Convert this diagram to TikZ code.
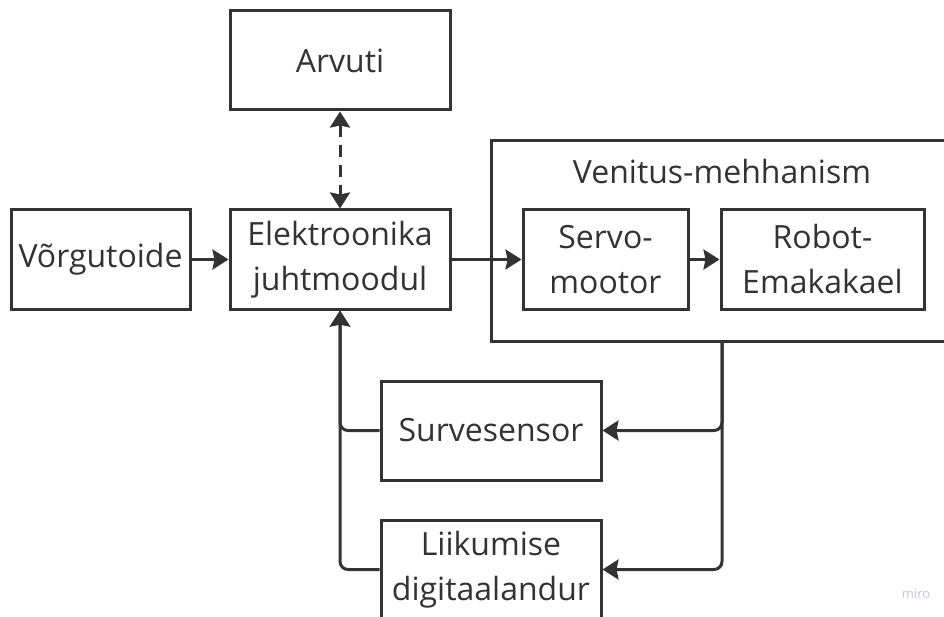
\documentclass[tikz,border=0pt]{standalone}
\usepackage{fontspec}
\setmainfont{Open Sans}
\usetikzlibrary{arrows.meta}
\definecolor{ink}{HTML}{333333}
\definecolor{mirogrey}{HTML}{C4C4D6}
\tikzset{
  blok/.style={draw=ink, line width=3pt, text=ink, align=center,
    inner sep=0pt, font=\fontsize{32}{45}\selectfont},
  nool/.style={draw=ink, line width=3pt,
    -{Stealth[inset=2pt,length=16pt,width=20pt]}},
  kahesuunaline/.style={nool, {Stealth[inset=2pt,length=16pt,width=20pt]}-{Stealth[inset=2pt,length=16pt,width=20pt]},
    dash pattern=on 12pt off 8pt}
}
\begin{document}
\begin{tikzpicture}[x=1pt,y=-1pt]
  \useasboundingbox[fill=white] (0,0) rectangle (944,617);
  \clip (0,0) rectangle (944,617);
  % plokid
  \node[blok, minimum width=480pt, minimum height=200pt] (mehh) at (731,241) {};
  \node[blok, draw=none] (mehhpealkiri) at (722,172) {Venitus-mehhanism};
  \node[blok, minimum width=220pt, minimum height=99pt] (arvuti) at (340,60.5) {Arvuti};
  \node[blok, minimum width=179pt, minimum height=99pt] (toide) at (100.5,259.5) {Võrgutoide};
  \node[blok, minimum width=220pt, minimum height=99pt] (juht) at (340,259.5) {Elektroonika\\juhtmoodul};
  \node[blok, minimum width=165pt, minimum height=99pt] (servo) at (605.5,259.5) {Servo-\\mootor};
  \node[blok, minimum width=203pt, minimum height=99pt] (robot) at (822.5,259.5) {Robot-\\Emakakael};
  \node[blok, minimum width=220pt, minimum height=99pt] (surve) at (491,430.5) {Survesensor};
  \node[blok, minimum width=220pt, minimum height=99pt] (liik) at (491,569.5) {Liikumise\\digitaalandur};
  \coordinate (haru) at (722,341);
  % ühendused
  \draw[nool] (toide) -- (juht);
  \draw[nool] (juht) -- (servo);
  \draw[nool] (servo) -- (robot);
  \draw[kahesuunaline] (arvuti) -- (juht);
  \begin{scope}[rounded corners=8pt]
    \draw[nool] (haru) |- (surve.east);
    \draw[nool] (haru) |- (liik.east);
    \draw[nool] (surve.west) -| (juht.south);
    \draw[nool] (liik.west) -| (juht.south);
  \end{scope}
  \node[text=mirogrey, font=\fontsize{13}{15}\selectfont] (miro) at (916,594) {miro};
\end{tikzpicture}
\end{document}
